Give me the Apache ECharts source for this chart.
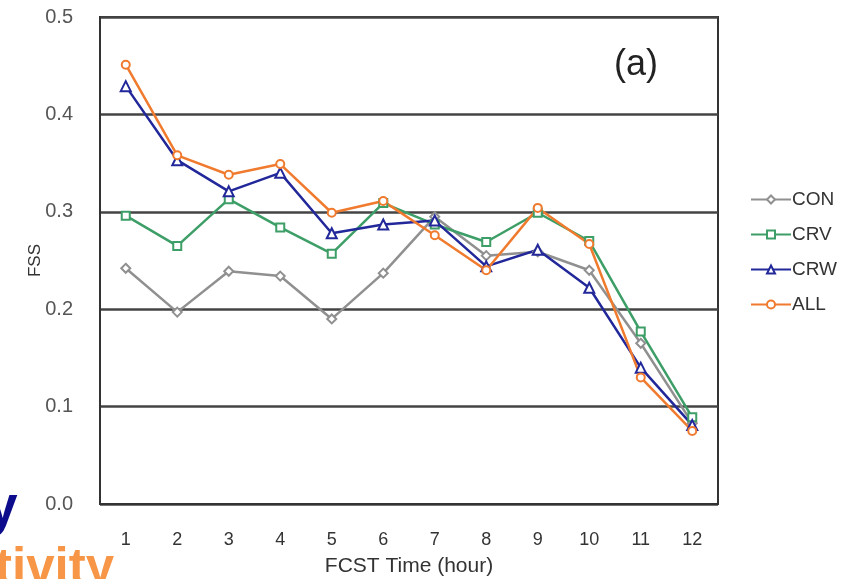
<!DOCTYPE html>
<html><head><meta charset="utf-8">
<script src="https://cdn.jsdelivr.net/npm/echarts@6/dist/echarts.min.js"></script>
<style>html,body{margin:0;padding:0;background:#fff}#c{width:848px;height:579px}</style>
</head><body><div id="c"></div>
<script>
const categories = ['1','2','3','4','5','6','7','8','9','10','11','12'];
const CON = [0.242,0.197,0.239,0.234,0.190,0.237,0.295,0.255,0.259,0.240,0.165,0.083];
const CRV = [0.296,0.265,0.313,0.284,0.257,0.309,0.287,0.269,0.299,0.270,0.177,0.089];
const CRW = [0.429,0.353,0.321,0.340,0.278,0.287,0.291,0.244,0.261,0.222,0.140,0.081];
const ALL = [0.451,0.358,0.338,0.349,0.299,0.311,0.276,0.240,0.304,0.267,0.130,0.075];
const yTicks = [0,0.1,0.2,0.3,0.4,0.5];

const chart = echarts.init(document.getElementById('c'));
function s(name, data, color, symbol, size){
  return {name, type:'line', data, symbol, symbolSize:size, showAllSymbol:true,
    lineStyle:{color, width:2.5}, itemStyle:{color:'#fff', borderColor:color, borderWidth:2},
    color, emphasis:{disabled:true}};
}
chart.setOption({
  animation:false,
  grid:{left:100, top:17, width:618, height:487, show:true, borderColor:'#333', borderWidth:2,
    containLabel:false, outerBoundsMode:'none'},
  xAxis:{type:'category', data:categories, boundaryGap:true,
    name:'FCST Time (hour)', nameLocation:'middle', nameGap:52, nameMoveOverlap:false,
    nameTextStyle:{fontFamily:'Liberation Sans', fontSize:21, color:'#333'},
    axisLine:{lineStyle:{color:'#333', width:2}}, axisTick:{show:false},
    axisLabel:{fontFamily:'Liberation Sans', fontSize:18, color:'#333', margin:27}},
  yAxis:{type:'value', min:0, max:0.5, interval:0.1,
    name:'FSS', nameLocation:'middle', nameGap:56, nameRotate:90, nameMoveOverlap:false,
    nameTextStyle:{fontFamily:'Liberation Sans', fontSize:17, color:'#333'},
    axisLine:{show:true, lineStyle:{color:'#333', width:2}}, axisTick:{show:false},
    splitLine:{lineStyle:{color:'#444', width:2.5}},
    axisLabel:{fontFamily:'Liberation Sans', fontSize:20, color:'#555', margin:27,
      formatter:v=>v.toFixed(1)}},
  legend:{orient:'vertical', left:745, top:185, itemGap:16, itemWidth:40, itemHeight:10,
    textStyle:{fontFamily:'Liberation Sans', fontSize:19, color:'#333', padding:[0,0,0,-4]},
    data:['CON','CRV','CRW','ALL']},
  series:[
    s('CON', CON, '#909090', 'diamond', 9),
    s('CRV', CRV, '#3d9e67', 'rect', 8),
    s('CRW', CRW, '#22289a', 'triangle', 10),
    s('ALL', ALL, '#f07b2e', 'circle', 8)
  ],
  graphic:[
    {type:'text', left:614, top:47, style:{text:'(a)', fontFamily:'Liberation Sans', fontSize:36, fill:'#222'}},
    {type:'text', x:-13, y:481, style:{text:'y', fontFamily:'Liberation Sans', fontWeight:'bold', fontSize:55, fill:'#0c0c8c'}},
    {type:'text', x:-5, y:544, style:{text:'tivity', fontFamily:'Liberation Sans', fontWeight:'bold', fontSize:51, fill:'#f79646'}}
  ]
});
</script></body></html>
